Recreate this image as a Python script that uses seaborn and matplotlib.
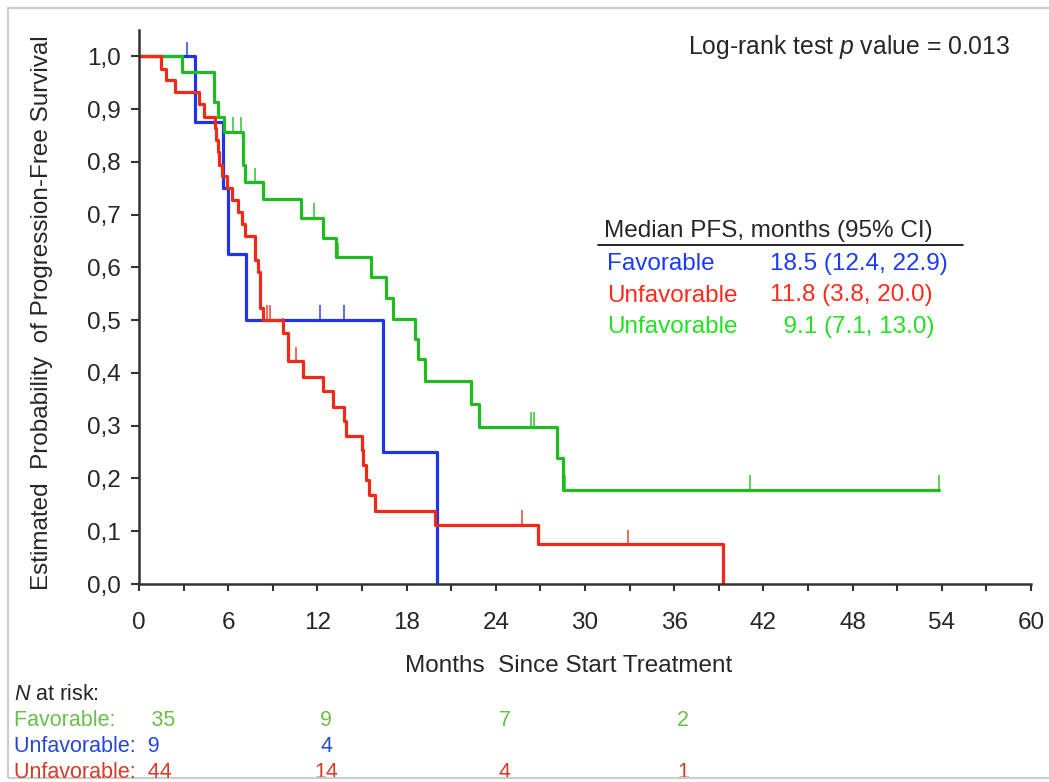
import numpy as np
import pandas as pd
import matplotlib
matplotlib.use('Agg')
import matplotlib.pyplot as plt
import matplotlib.transforms as mtransforms
from matplotlib.patches import Rectangle
from matplotlib.lines import Line2D
import seaborn as sns

sns.set_style('ticks')
plt.rcParams['font.family'] = ['Liberation Sans', 'DejaVu Sans']
plt.rcParams['mathtext.fontset'] = 'custom'
plt.rcParams['mathtext.rm'] = 'Liberation Sans'
plt.rcParams['mathtext.it'] = 'Liberation Sans:italic'

W, H = 1049, 782

# ============================================================
# 数据: 阶梯时间 / 生存率 / 删失时间
# ============================================================
blue_t = [0, 3.8, 5.66, 6.0, 7.2, 16.38, 20.05]
blue_s = [1.0, 0.875, 0.75, 0.625, 0.5, 0.25, 0.0]
blue_cens = [3.25, 12.2, 13.8]

green_t = [0, 2.92, 5.07, 5.34, 5.7, 6.98, 7.16, 8.37, 10.9, 12.41, 13.27,
           15.62, 16.6, 17.1, 18.59, 18.8, 19.26, 22.3, 22.9, 28.1, 28.5, 53.8]
green_s = [1.0, 0.971, 0.914, 0.886, 0.857, 0.794, 0.761, 0.729, 0.694, 0.656, 0.619,
           0.581, 0.542, 0.503, 0.464, 0.426, 0.384, 0.342, 0.298, 0.238, 0.178, 0.178]
green_cens = [6.31, 6.87, 7.81, 11.74, 13.4, 26.35, 26.55, 28.65, 41.1, 53.8]

red_t = [0, 1.46, 1.8, 2.42, 4.05, 4.38, 5.12, 5.2, 5.3, 5.4, 5.6, 5.9, 6.24,
         6.69, 6.91, 7.14, 7.8, 8.03, 8.15, 8.37, 9.7, 10.05, 11.0, 12.4, 13.04,
         13.76, 13.94, 15.0, 15.1, 15.29, 15.44, 15.9, 19.93, 26.86, 39.3]
red_s = [1.0, 0.977, 0.955, 0.932, 0.909, 0.886, 0.864, 0.841, 0.818, 0.795, 0.773,
         0.75, 0.727, 0.705, 0.682, 0.659, 0.614, 0.591, 0.523, 0.5, 0.476, 0.422,
         0.393, 0.365, 0.336, 0.308, 0.281, 0.254, 0.226, 0.197, 0.169, 0.139,
         0.112, 0.075, 0.0]
red_cens = [8.6, 8.78, 9.7, 10.57, 25.75, 32.9]

groups = ['blue', 'green', 'red']
line_colors = {'blue': '#1f35ea', 'green': '#20bb20', 'red': '#f02a16'}
cens_colors = {'blue': '#5a6cf0', 'green': '#5ccf5c', 'red': '#f06a5a'}

# 图例 (Median PFS)
legend_names = ['Favorable', 'Unfavorable', 'Unfavorable']
legend_values = ['18.5 (12.4, 22.9)', '11.8 (3.8, 20.0)', '  9.1 (7.1, 13.0)']
legend_colors = ['#1a3cf5', '#ff2a1a', '#22e022']

# N at risk 表
risk_times = [0, 12, 24, 36]
risk_names = ['Favorable', 'Unfavorable', 'Unfavorable']
risk_counts = [[35, 9, 7, 2], [9, 4], [44, 14, 4, 1]]
risk_pads = [6, 2, 2]
risk_colors = ['#6abf4b', '#2547d8', '#d83a2a']

curves = {'blue': (blue_t, blue_s, blue_cens),
          'green': (green_t, green_s, green_cens),
          'red': (red_t, red_s, red_cens)}

df = pd.concat([pd.DataFrame({'group': g, 'time': c[0], 'surv': c[1]})
                for g, c in curves.items()], ignore_index=True)

# ============================================================
# 绘图
# ============================================================
fig = plt.figure(figsize=(W / 100, H / 100), dpi=100)
ax = fig.add_axes([139 / W, 1 - 584 / H, (1031 - 139) / W, (584 - 30) / H])

sns.lineplot(data=df, x='time', y='surv', hue='group', hue_order=groups,
             palette=line_colors, estimator=None, drawstyle='steps-post',
             linewidth=2.3, legend=False, ax=ax)

# 删失标记 (向上的短竖线)
for g in groups:
    st, ss, cens = curves[g]
    idx = np.searchsorted(st, cens, side='right') - 1
    lev = np.array(ss)[idx]
    ax.vlines(cens, lev, lev + 0.028, colors=cens_colors[g], linewidth=1.4, zorder=1)

ax.set_xlim(0, 60)
ax.set_ylim(0, 1.05)
ax.set_xticks(np.arange(0, 61, 6))
ax.set_xticks(np.arange(3, 60, 6), minor=True)
ax.set_yticks(np.arange(0, 1.01, 0.1))
ax.set_yticklabels([f'{v:.1f}'.replace('.', ',') for v in np.arange(0, 1.01, 0.1)])
ax.tick_params(axis='both', which='both', labelsize=17.5, color='#333333',
               width=1.5, direction='out')
ax.tick_params(axis='x', which='both', length=5, pad=15)
ax.tick_params(axis='y', length=6, pad=7)
for side in ['left', 'bottom']:
    ax.spines[side].set_color('#333333')
    ax.spines[side].set_linewidth(1.8)
sns.despine(ax=ax)

ax.set_xlabel('Months  Since Start Treatment', fontsize=17.5)
ax.set_ylabel('Estimated  Probability  of Progression-Free Survival', fontsize=17.5)
ax.xaxis.set_label_coords(0.482, -0.128)
ax.yaxis.set_label_coords(-0.096, 0.49)


def px(x, y):
    return x / W, 1 - y / H


fig.text(*px(688, 47), 'Log-rank test $\\mathit{p}$ value = 0.013', fontsize=17.8,
         va='center', ha='left')

# Median PFS 图例
fig.text(*px(604, 231), 'Median PFS, months (95% CI)', fontsize=17.5, va='center')
fig.add_artist(Line2D([598 / W, 963 / W], [1 - 245 / H] * 2, color='black', linewidth=1.2))
for i, (nm, val, col) in enumerate(zip(legend_names, legend_values, legend_colors)):
    yy = 264 + i * 31.5
    fig.text(*px(607, yy), nm, fontsize=17.5, color=col, va='center')
    fig.text(*px(770, yy), val, fontsize=17.5, color=col, va='center')

# N at risk
fig.text(*px(14, 695), '$\\mathit{N}$ at risk:', fontsize=15.5, va='center')
trans = mtransforms.blended_transform_factory(ax.transData, fig.transFigure)
for i, (nm, counts, pad, col) in enumerate(zip(risk_names, risk_counts, risk_pads, risk_colors)):
    yy = 1 - (720 + i * 26.5) / H
    fig.text(14 / W, yy, f'{nm}:' + ' ' * pad + str(counts[0]), fontsize=15.5,
             color=col, va='center')
    for t, n in zip(risk_times[1:], counts[1:]):
        ax.text(t + 0.6, yy, str(n), fontsize=15.5, color=col, va='center',
                ha='center', transform=trans, clip_on=False)

# 外框 & 左上角残字
fig.add_artist(Rectangle((8 / W, 1 - 778 / H), 1.2, (778 - 8) / H,
                         transform=fig.transFigure, fill=False,
                         edgecolor='#cccccc', linewidth=1.5))
fig.text(10 / W, 1 + 12 / H, 'g', fontsize=17.5, va='center')

fig.savefig('out.png', dpi=100)
